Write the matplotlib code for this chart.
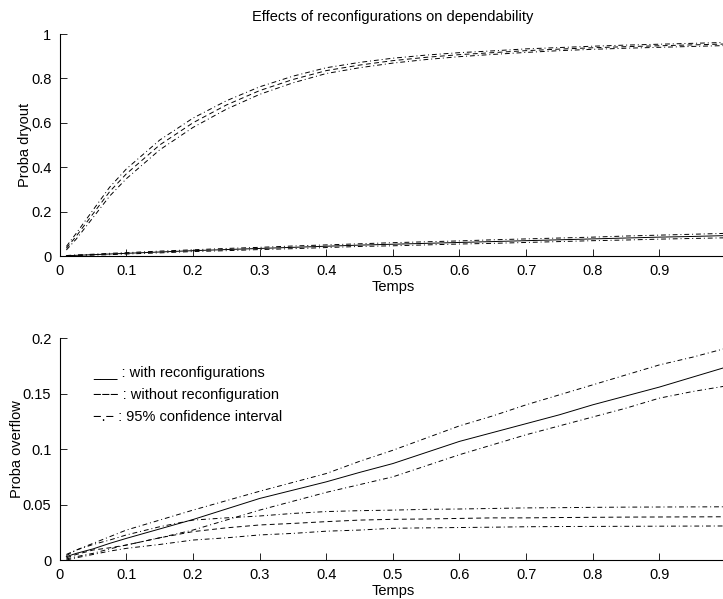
import numpy as np
import matplotlib
matplotlib.use("Agg")
from matplotlib import pyplot as plt
from matplotlib.ticker import FuncFormatter

plt.rcParams['font.family'] = ['Liberation Sans', 'DejaVu Sans']

#   time grid (fraction of mission)
t = [0.01, 0.025, 0.05, 0.075, 0.1, 0.15, 0.2, 0.25, 0.3, 0.35, 0.4, 0.45,
     0.5, 0.55, 0.6, 0.65, 0.7, 0.75, 0.8, 0.85, 0.9, 0.95, 1.0]

#   dryout, without reconfiguration (mean + 95% bounds)
dry_wo = [0.035, 0.09, 0.19, 0.29, 0.37, 0.50, 0.60, 0.68, 0.745, 0.795, 0.835, 0.86,
          0.88, 0.895, 0.907, 0.916, 0.925, 0.932, 0.938, 0.943, 0.947, 0.951, 0.955]
dry_wo_hi = [0.043, 0.103, 0.207, 0.310, 0.392, 0.522, 0.621, 0.699, 0.762, 0.810, 0.848, 0.872,
             0.891, 0.905, 0.916, 0.924, 0.933, 0.939, 0.945, 0.950, 0.954, 0.958, 0.962]
dry_wo_lo = [0.027, 0.077, 0.173, 0.270, 0.348, 0.478, 0.579, 0.661, 0.728, 0.780, 0.822, 0.848,
             0.869, 0.885, 0.898, 0.908, 0.917, 0.925, 0.931, 0.936, 0.940, 0.944, 0.948]

#   dryout, with reconfigurations
dry_w = [0.001, 0.003, 0.006, 0.009, 0.012, 0.018, 0.024, 0.029, 0.034, 0.039, 0.044, 0.049,
         0.053, 0.057, 0.061, 0.065, 0.069, 0.073, 0.077, 0.081, 0.085, 0.088, 0.092]
dry_w_hi = [0.002, 0.005, 0.008, 0.012, 0.015, 0.022, 0.028, 0.034, 0.039, 0.045, 0.050, 0.055,
            0.060, 0.064, 0.068, 0.073, 0.077, 0.081, 0.085, 0.090, 0.094, 0.098, 0.102]
dry_w_lo = [0.000, 0.001, 0.004, 0.006, 0.009, 0.014, 0.020, 0.024, 0.029, 0.033, 0.038, 0.043,
            0.046, 0.050, 0.054, 0.057, 0.061, 0.065, 0.069, 0.072, 0.076, 0.079, 0.082]

#   overflow, with reconfigurations
ovf_w = [0.003, 0.006, 0.010, 0.015, 0.0195, 0.028, 0.0365, 0.046, 0.0555, 0.063, 0.0705, 0.079,
         0.087, 0.097, 0.107, 0.115, 0.123, 0.131, 0.140, 0.148, 0.156, 0.165, 0.174]
ovf_w_hi = [0.005, 0.009, 0.015, 0.021, 0.027, 0.036, 0.045, 0.0535, 0.062, 0.070, 0.078, 0.089,
            0.099, 0.110, 0.121, 0.130, 0.140, 0.149, 0.158, 0.167, 0.176, 0.183, 0.191]
ovf_w_lo = [0.001, 0.003, 0.006, 0.010, 0.0135, 0.020, 0.027, 0.036, 0.045, 0.053, 0.061, 0.068,
            0.075, 0.085, 0.095, 0.104, 0.113, 0.121, 0.129, 0.137, 0.146, 0.152, 0.157]

#   overflow, without reconfiguration
ovf_wo = [0.002, 0.005, 0.009, 0.011, 0.0135, 0.020, 0.0256, 0.029, 0.0316, 0.033, 0.0346, 0.036,
          0.0367, 0.037, 0.0375, 0.038, 0.0380, 0.0383, 0.0385, 0.0387, 0.0388, 0.0389, 0.039]
ovf_wo_hi = [0.004, 0.009, 0.014, 0.018, 0.0226, 0.030, 0.036, 0.038, 0.0397, 0.042, 0.0437, 0.0445,
             0.045, 0.0457, 0.046, 0.0465, 0.047, 0.0472, 0.0475, 0.0477, 0.0478, 0.0479, 0.048]
ovf_wo_lo = [0.000, 0.002, 0.005, 0.008, 0.0105, 0.014, 0.018, 0.020, 0.0226, 0.024, 0.026, 0.027,
             0.0286, 0.029, 0.0293, 0.0296, 0.030, 0.0302, 0.0303, 0.0304, 0.0305, 0.0306, 0.0307]

xticks = [0, 0.1, 0.2, 0.3, 0.4, 0.5, 0.6, 0.7, 0.8, 0.9]
legend_lines = ["___ : with reconfigurations",
                "\u2212\u2212\u2212 : without reconfiguration",
                "\u2212.\u2212 : 95% confidence interval"]

fs = 10.5
lw = 0.7
dash = (0, (5, 3.5))
dashdot = (0, (5, 3, 1, 3))
fmt = FuncFormatter(lambda v, p: '%g' % round(v, 4))

fig = plt.figure(figsize=(7.23, 5.99), dpi=100)
ax1 = fig.add_axes([59.7 / 723, 1 - 256 / 599, 666.3 / 723, 222 / 599])
ax2 = fig.add_axes([59.7 / 723, 1 - 560 / 599, 666.3 / 723, 221.7 / 599])

#    top: dryout
ax1.plot(t, dry_wo, color='k', lw=lw, ls=dash)
ax1.plot(t, dry_wo_hi, color='k', lw=lw, ls=dashdot)
ax1.plot(t, dry_wo_lo, color='k', lw=lw, ls=dashdot)
ax1.plot(t, dry_w, color='k', lw=lw, ls='-')
ax1.plot(t, dry_w_hi, color='k', lw=lw, ls=dashdot)
ax1.plot(t, dry_w_lo, color='k', lw=lw, ls=dashdot)
ax1.set_ylim(0, 1)
ax1.set_yticks([0, 0.2, 0.4, 0.6, 0.8, 1])
ax1.set_ylabel("Proba dryout", fontsize=fs, labelpad=-1)
ax1.set_title("Effects of reconfigurations on dependability", fontsize=fs, pad=9)

#    bottom: overflow
ax2.plot(t, ovf_w, color='k', lw=lw, ls='-')
ax2.plot(t, ovf_w_hi, color='k', lw=lw, ls=dashdot)
ax2.plot(t, ovf_w_lo, color='k', lw=lw, ls=dashdot)
ax2.plot(t, ovf_wo, color='k', lw=lw, ls=dash)
ax2.plot(t, ovf_wo_hi, color='k', lw=lw, ls=dashdot)
ax2.plot(t, ovf_wo_lo, color='k', lw=lw, ls=dashdot)
ax2.set_ylim(0, 0.2)
ax2.set_yticks([0, 0.05, 0.1, 0.15, 0.2])
ax2.set_ylabel("Proba overflow", fontsize=fs, labelpad=-1)
for i, s in enumerate(legend_lines):
    ax2.text(0.05, 0.169 - i * 0.0202, s, fontsize=fs, va='center', ha='left')

for ax in (ax1, ax2):
    ax.set_xlim(0, 1)
    ax.set_xticks(xticks)
    ax.xaxis.set_major_formatter(fmt)
    ax.yaxis.set_major_formatter(fmt)
    ax.set_xlabel("Temps", fontsize=fs, labelpad=1.2)
    ax.spines['top'].set_visible(False)
    ax.spines['right'].set_visible(False)
    ax.spines['left'].set_linewidth(0.8)
    ax.spines['bottom'].set_linewidth(0.8)
    ax.tick_params(direction='in', length=5, width=0.6, labelsize=fs, pad=6)

fig.savefig("out.png", dpi=100)
